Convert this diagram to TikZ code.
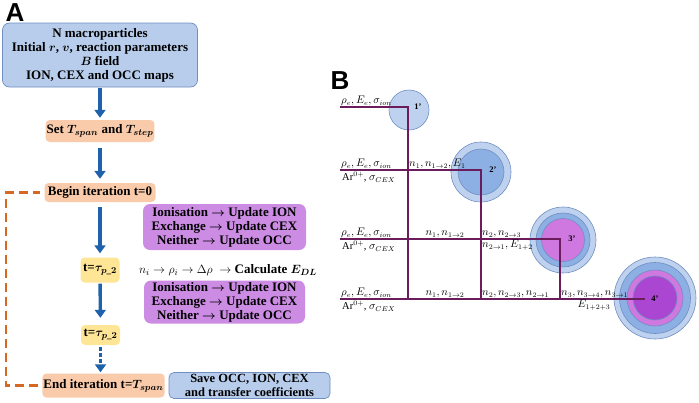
\documentclass[tikz,border=0pt]{standalone}
\usepackage{amsmath}
\usepackage{fontspec}
\setmainfont{Liberation Serif}
\setsansfont{Liberation Sans}
\usetikzlibrary{arrows.meta,positioning,calc}

\definecolor{boxblue}{RGB}{183,205,235}
\definecolor{edgeblue}{RGB}{112,142,192}
\definecolor{boxorange}{RGB}{249,203,170}
\definecolor{boxyellow}{RGB}{255,229,150}
\definecolor{boxpurple}{RGB}{204,140,228}
\definecolor{arrowblue}{RGB}{31,98,172}
\definecolor{loopor}{RGB}{214,104,36}
\definecolor{wirepurple}{RGB}{106,28,92}
\definecolor{shellblue}{RGB}{190,210,240}
\definecolor{midblue}{RGB}{140,176,228}
\definecolor{lightviolet}{RGB}{206,120,224}
\definecolor{deepviolet}{RGB}{170,70,210}

\begin{document}
\begin{tikzpicture}[x=1pt,y=-1pt,
  every node/.style={font=\fontsize{13}{14}\selectfont\bfseries\boldmath},
  infobox/.style={draw=edgeblue, fill=boxblue, rounded corners=7pt, align=center, line width=0.7pt, inner sep=1pt},
  stagebox/.style={fill=boxorange, rounded corners=4pt, inner sep=1pt},
  tickbox/.style={fill=boxyellow, rounded corners=4pt, inner sep=1pt},
  reactbox/.style={fill=boxpurple, rounded corners=7pt, align=center, inner sep=1pt},
  flow/.style={draw=arrowblue, line width=3.4pt, -{Triangle[length=8pt,width=11pt]}},
  iterloop/.style={draw=loopor, line width=2.3pt, dash pattern=on 9pt off 5pt},
  wire/.style={draw=wirepurple, line width=2pt},
  tag/.style={font=\fontsize{10.5}{12}\selectfont, inner sep=1pt},
  primetag/.style={font=\fontsize{8.5}{9}\selectfont\bfseries, inner sep=0pt},
  shell/.style={circle, draw=edgeblue, line width=0.6pt, inner sep=0pt},
  panel/.style={font=\sffamily\bfseries\fontsize{26}{26}\selectfont, inner sep=0pt}]
\useasboundingbox (0,0) rectangle (699,402);

% panel A
\node[panel] (labA) at (15,13) {A};
\node[infobox, minimum width=195pt, minimum height=64pt] (init) at (100,55)
  {N macroparticles\\Initial $r$, $v$, reaction parameters\\$B$ field\\ION, CEX and OCC maps};
\node[stagebox, minimum width=102pt, minimum height=22pt] (span) at (100,131) {Set $T_{span}$ and $T_{step}$};
\node[stagebox, minimum width=111pt, minimum height=19pt] (begin) at (100,192.5) {Begin iteration t=0};
\node[tickbox, minimum width=39pt, minimum height=25pt] (tau1) at (100,270) {t=$\tau_{p\_2}$};
\node[tickbox, minimum width=39pt, minimum height=20pt] (tau2) at (100.5,335) {t=$\tau_{p\_2}$};
\node[stagebox, minimum width=119pt, minimum height=24pt] (end) at (103.5,385.5) {End iteration t=$T_{span}$};
\node[infobox, rounded corners=5pt, minimum width=161pt, minimum height=26pt,
  font=\fontsize{12.5}{13.5}\selectfont\bfseries] (save) at (249.5,385.5) {Save OCC, ION, CEX\\and transfer coefficients};
\node[reactbox, minimum width=163pt, minimum height=46pt] (react1) at (224.5,227)
  {Ionisation $\to$ Update ION\\Exchange $\to$ Update CEX\\Neither $\to$ Update OCC};
\node[font=\fontsize{13}{14}\selectfont] (edl) at (228,270)
  {$n_i \to \rho_i \to \Delta\rho \;\to$ \textbf{Calculate} $\boldsymbol{E_{DL}}$};
\node[reactbox, minimum width=161pt, minimum height=43pt] (react2) at (224.5,302)
  {Ionisation $\to$ Update ION\\Exchange $\to$ Update CEX\\Neither $\to$ Update OCC};

\draw[flow, shorten <=1pt, shorten >=2pt] (init) -- (span);
\draw[flow, shorten <=6pt, shorten >=4pt] (span) -- (begin);
\draw[flow, shorten <=5pt, shorten >=4pt] (begin) -- (tau1);
\draw[flow, shorten <=1pt, shorten >=7pt] (tau1) -- (tau2);
\draw[flow, dash pattern=on 3.5pt off 2.5pt, shorten <=2pt, shorten >=1pt] (tau2.south) -- (tau2.south |- end.north);
\draw[iterloop, shorten <=4pt, shorten >=4pt] (end.west) -- ++(-36,0) |- (begin.west);

% panel B
\node[panel] (labB) at (340,81) {B};
\coordinate (in1) at (340,107);
\coordinate (in2) at (340,170);
\coordinate (in3) at (340,239);
\coordinate (in4) at (340,299);
\coordinate (j1) at (408,107);
\coordinate (j2) at (481,170);
\coordinate (j3) at (560,239);
\coordinate (e4) at (645,299);

\node[shell, fill=shellblue, minimum size=40pt] (c1) at (409,110) {};
\node[shell, fill=shellblue, minimum size=60pt] (c2) at (481,172) {};
\node[shell, fill=midblue, minimum size=46pt] (c2b) at (c2) {};
\node[shell, fill=shellblue, minimum size=66pt] (c3) at (563,240) {};
\node[shell, fill=midblue, minimum size=54pt] (c3b) at (c3) {};
\node[shell, fill=lightviolet, minimum size=43pt] (c3c) at (c3) {};
\node[shell, fill=shellblue, minimum size=82pt] (c4) at (655,298) {};
\node[shell, fill=midblue, minimum size=71pt] (c4b) at (c4) {};
\node[shell, fill=lightviolet, minimum size=56pt] (c4c) at (c4) {};
\node[shell, fill=deepviolet, minimum size=44pt] (c4d) at (c4) {};

\draw[wire] (in1) -- (j1) -- (j1 |- in4);
\draw[wire] (in2) -- (j2) -- (j2 |- in4);
\draw[wire] (in3) -- (j3) -- (j3 |- in4);
\draw[wire] (in4) -- (e4);

\node[primetag] (p1) at (418,107) {1'};
\node[primetag] (p2) at (493,170) {2'};
\node[primetag] (p3) at (572,239) {3'};
\node[primetag] (p4) at (655,299) {4'};

\node[tag, anchor=south west] (ie1) at (in1) {$\rho_e, E_e, \sigma_{ion}$};
\node[tag, anchor=south west] (ie2) at (in2) {$\rho_e, E_e, \sigma_{ion}$};
\node[tag, anchor=south west] (ie3) at (in3) {$\rho_e, E_e, \sigma_{ion}$};
\node[tag, anchor=south west] (ie4) at (in4) {$\rho_e, E_e, \sigma_{ion}$};
\node[tag, anchor=north west, inner sep=2pt] (ar2) at (in2) {Ar$^{0+}$, $\sigma_{CEX}$};
\node[tag, anchor=north west, inner sep=2pt] (ar3) at (in3) {Ar$^{0+}$, $\sigma_{CEX}$};
\node[tag, anchor=north west, inner sep=2pt] (ar4) at (in4) {Ar$^{0+}$, $\sigma_{CEX}$};

\node[tag, anchor=south west] (f21) at (j1 |- in2) {$n_1, n_{1\to2}, E_1$};
\node[tag, anchor=south] (f31) at (445,239) {$n_1, n_{1\to2}$};
\node[tag, anchor=south west] (f32) at (j2 |- in3) {$n_2, n_{2\to3}$};
\node[tag, anchor=north west] (g32) at (j2 |- in3) {$n_{2\to1}, E_{1+2}$};
\node[tag, anchor=south] (f41) at (445,299) {$n_1, n_{1\to2}$};
\node[tag, anchor=south west] (f42) at (j2 |- in4) {$n_2, n_{2\to3}, n_{2\to1}$};
\node[tag, anchor=south west] (f43) at (j3 |- in4) {$n_3, n_{3\to4}, n_{3\to1}$};
\node[tag, anchor=north] (g43) at (594,299) {$E_{1+2+3}$};
\end{tikzpicture}
\end{document}
